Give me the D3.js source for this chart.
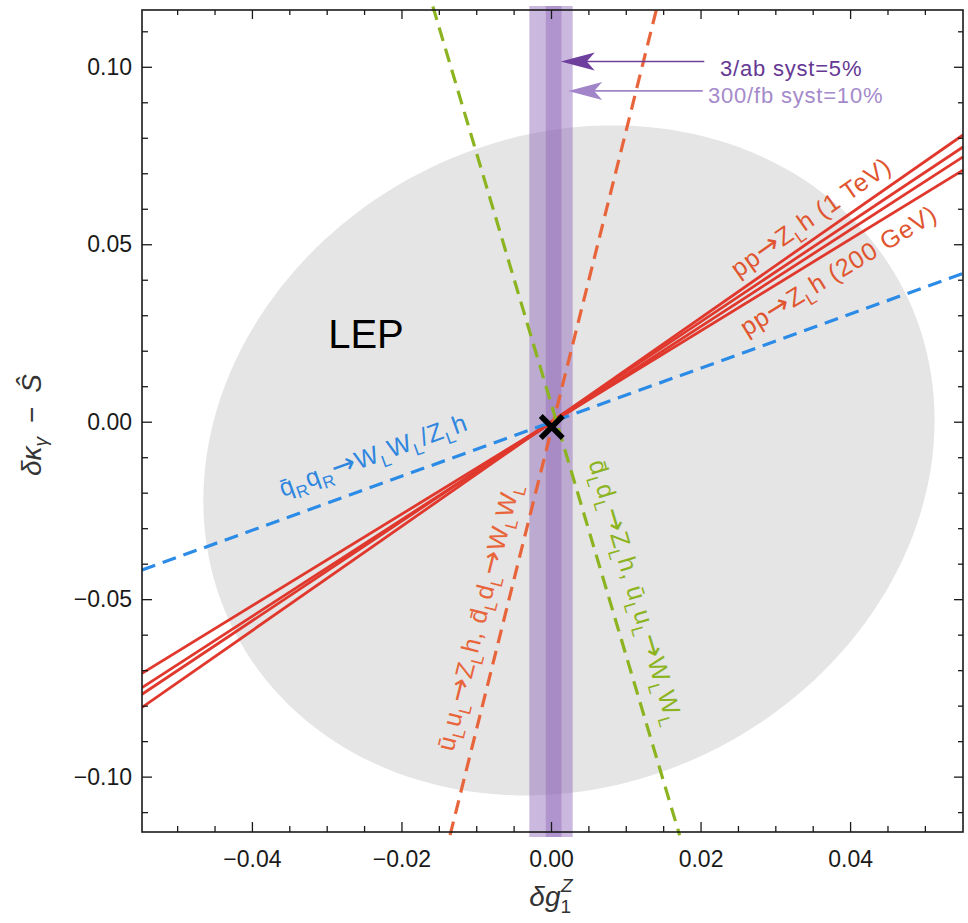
<!DOCTYPE html>
<html>
<head>
<meta charset="utf-8">
<script src="https://cdn.jsdelivr.net/npm/d3@7"></script>
<style>
  body { margin: 0; background: #fff; }
  svg text { font-family: "Liberation Sans", Arial, Helvetica, sans-serif; }
</style>
</head>
<body>
<div id="chart"></div>
<script>
// plot ranges and ticks
var xDomain = [-0.0547, 0.0551];
var yDomain = [-0.1156, 0.1160];
var xMajor = [-0.04, -0.02, 0.00, 0.02, 0.04];
var xLabels = ["\u22120.04", "\u22120.02", "0.00", "0.02", "0.04"];
var xMinor = [-0.05, -0.045, -0.035, -0.03, -0.025, -0.015, -0.01, -0.005,
              0.005, 0.01, 0.015, 0.025, 0.03, 0.035, 0.045, 0.05];
var yMajor = [-0.10, -0.05, 0.00, 0.05, 0.10];
var yLabels = ["\u22120.10", "\u22120.05", "0.00", "0.05", "0.10"];
var yMinor = [-0.11, -0.09, -0.08, -0.07, -0.06, -0.04, -0.03, -0.02, -0.01,
              0.01, 0.02, 0.03, 0.04, 0.06, 0.07, 0.08, 0.09, 0.11];

// LEP fit: centre, half widths, correlation
var lepCenter = [0.0024, -0.0109];
var lepHalf = [0.0489, 0.0944];
var lepRho = 0.12;

// vertical bands in dg1Z
var band300fb = [-0.0029, 0.0029];
var band3ab = [-0.0007, 0.0014];

// pp -> Z_L h boundaries: value at left edge / right edge
var redLeft = [-0.0709, -0.0749, -0.0768, -0.0805];
var redRight = [0.0709, 0.0746, 0.0774, 0.0808];

// dashed lines, two points each
var blueLine = [[-0.0547, -0.0418], [0.0551, 0.0418]];
var orangeLine = [[-0.0135, -0.1165], [0.0142, 0.1170]];
var greenLine = [[-0.0158, 0.1170], [0.0172, -0.1165]];

var bestFit = [0.0001, -0.0015];

// set the dimensions and margins of the graph
var margin = {top: 10, left: 142},
    width = 821,
    height = 822;

var x = d3.scaleLinear().domain(xDomain).range([0, width]);
var y = d3.scaleLinear().domain(yDomain).range([height, 0]);

var svg = d3.select("#chart").append("svg")
    .attr("width", 968)
    .attr("height", 923);

svg.append("defs").append("clipPath")
    .attr("id", "clip")
  .append("rect")
    .attr("x", 0)
    .attr("y", -4)
    .attr("width", width)
    .attr("height", height + 9);

var g = svg.append("g")
    .attr("transform", "translate(" + margin.left + "," + margin.top + ")");

var plot = g.append("g").attr("clip-path", "url(#clip)");

var line = d3.line()
    .x(function(d) { return x(d[0]); })
    .y(function(d) { return y(d[1]); });

// LEP ellipse
var lepPts = d3.range(0, 360, 2).map(function(a) {
  var t = a * Math.PI / 180;
  return [lepCenter[0] + lepHalf[0] * Math.cos(t),
          lepCenter[1] + lepHalf[1] * (lepRho * Math.cos(t) + Math.sqrt(1 - lepRho * lepRho) * Math.sin(t))];
});
plot.append("path")
    .datum(lepPts)
    .attr("fill", "#e5e5e5")
    .attr("d", line.curve(d3.curveLinearClosed));
line.curve(d3.curveLinear);

// purple bands
[[band300fb, 0.45], [band3ab, 0.42]].forEach(function(b) {
  plot.append("rect")
      .attr("x", x(b[0][0]))
      .attr("width", x(b[0][1]) - x(b[0][0]))
      .attr("y", -4)
      .attr("height", height + 9)
      .attr("fill", "#8b62b5")
      .attr("fill-opacity", b[1]);
});

// red solid lines
redLeft.forEach(function(v, i) {
  plot.append("path")
      .datum([[xDomain[0], v], [xDomain[1], redRight[i]]])
      .attr("fill", "none")
      .attr("stroke", "#e0382d")
      .attr("stroke-width", 2.8)
      .attr("d", line);
});

// dashed lines
[[blueLine, "#2b8be6"], [orangeLine, "#e8643a"], [greenLine, "#8cb421"]].forEach(function(l) {
  plot.append("path")
      .datum(l[0])
      .attr("fill", "none")
      .attr("stroke", l[1])
      .attr("stroke-width", 3.2)
      .attr("stroke-dasharray", "14,8")
      .attr("d", line);
});

// rich text: "sub" = subscript, "arr" = arrow glyph
function addRich(sel, parts, size) {
  var shift = 0;
  parts.forEach(function(p) {
    var s = p[1] === "sub" ? size * 0.28 : 0;
    var ts = sel.append("tspan").attr("dy", s - shift).text(p[0]);
    if (p[1] === "sub") ts.attr("font-size", size * 0.68);
    if (p[1] === "arr") ts.attr("font-family", "\"DejaVu Sans\", sans-serif").attr("font-size", size * 1.15);
    shift = s;
  });
}

// label placed along a line
var labelSize = 25;
function lineLabel(pts, t, offset, parts, color) {
  var x1 = x(pts[0][0]), y1 = y(pts[0][1]), x2 = x(pts[1][0]), y2 = y(pts[1][1]);
  var a = Math.atan2(y2 - y1, x2 - x1);
  var px = x1 + t * (x2 - x1) + offset * Math.sin(a),
      py = y1 + t * (y2 - y1) - offset * Math.cos(a);
  var txt = g.append("text")
      .attr("transform", "translate(" + px + "," + py + ") rotate(" + (a * 180 / Math.PI) + ")")
      .attr("font-size", labelSize)
      .attr("letter-spacing", 0.8)
      .attr("fill", color);
  addRich(txt, parts, labelSize);
}

var Lsub = ["L", "sub"], arrow = ["\u2192", "arr"];
lineLabel(blueLine, 0.18, 21,
  [["q\u0304", ""], ["R", "sub"], ["q", ""], ["R", "sub"], arrow, ["W", ""], Lsub, ["W", ""], Lsub, ["/Z", ""], Lsub, ["h", ""]],
  "#2f86de");
var red1TeV = [[xDomain[0], redLeft[3]], [xDomain[1], redRight[3]]];
var red200 = [[xDomain[0], redLeft[0]], [xDomain[1], redRight[0]]];
lineLabel(red1TeV, 0.734, 11,
  [["pp", ""], arrow, ["Z", ""], Lsub, ["h (1 TeV)", ""]], "#e0552f");
lineLabel(red200, 0.718, -29,
  [["pp", ""], arrow, ["Z", ""], Lsub, ["h (200 GeV)", ""]], "#e0552f");
lineLabel(orangeLine, 0.095, 17,
  [["u\u0304", ""], Lsub, ["u", ""], Lsub, arrow, ["Z", ""], Lsub, ["h, d\u0304", ""], Lsub, ["d", ""], Lsub,
   arrow, ["W", ""], Lsub, ["W", ""], Lsub], "#e8643a");
lineLabel(greenLine, 0.557, 19,
  [["d\u0304", ""], Lsub, ["d", ""], Lsub, arrow, ["Z", ""], Lsub, ["h, u\u0304", ""], Lsub, ["u", ""], Lsub,
   arrow, ["W", ""], Lsub, ["W", ""], Lsub], "#8cb421");

// LEP label
g.append("text")
    .attr("x", x(-0.0298))
    .attr("y", y(0.0207))
    .attr("font-size", 40)
    .attr("fill", "#000")
    .text("LEP");

// best fit marker
g.append("path")
    .attr("transform", "translate(" + x(bestFit[0]) + "," + y(bestFit[1]) + ")")
    .attr("d", "M-11,-11L11,11M-11,11L11,-11")
    .attr("stroke", "#000")
    .attr("stroke-width", 5.5);

// arrows with luminosity labels
var arrows = [
  {y: 0.1015, from: 0.0205, tip: 0.0013, ty: 0.0973, tx: 0.0226, text: "3/ab syst=5%", color: "#6f3f9e", tcolor: "#653894"},
  {y: 0.0932, from: 0.0203, tip: 0.0023, ty: 0.0897, tx: 0.0210, text: "300/fb syst=10%", color: "#a285c9", tcolor: "#a58acb"}
];
arrows.forEach(function(d) {
  var ay = y(d.y), tip = x(d.tip);
  g.append("line")
      .attr("x1", x(d.from)).attr("x2", tip + 20)
      .attr("y1", ay).attr("y2", ay)
      .attr("stroke", d.color)
      .attr("stroke-width", 1.6);
  g.append("path")
      .attr("d", "M" + tip + "," + ay + "L" + (tip + 34) + "," + (ay - 9) + "L" + (tip + 26) + "," + ay + "L" + (tip + 34) + "," + (ay + 9) + "Z")
      .attr("fill", d.color);
  g.append("text")
      .attr("x", x(d.tx))
      .attr("y", y(d.ty))
      .attr("font-size", 22)
      .attr("letter-spacing", 0.8)
      .attr("fill", d.tcolor)
      .text(d.text);
});

// axes
function styleAxis(sel) {
  sel.select(".domain").remove();
  sel.style("color", "#1a1a1a");
  sel.selectAll("line").attr("stroke-width", 1.3);
  sel.selectAll("text")
      .attr("font-size", 23)
      .attr("font-family", "\"Liberation Sans\", Arial, Helvetica, sans-serif");
}

g.append("g")
    .attr("transform", "translate(0," + height + ")")
    .call(d3.axisBottom(x).tickValues(xMajor).tickSize(-10).tickPadding(19)
      .tickFormat(function(d, i) { return xLabels[i]; }))
    .call(styleAxis);
g.append("g")
    .attr("transform", "translate(0," + height + ")")
    .call(d3.axisBottom(x).tickValues(xMinor).tickSize(-6).tickFormat(""))
    .call(styleAxis);
g.append("g")
    .call(d3.axisTop(x).tickValues(xMajor).tickSize(-9).tickFormat(""))
    .call(styleAxis);
g.append("g")
    .call(d3.axisTop(x).tickValues(xMinor).tickSize(-5).tickFormat(""))
    .call(styleAxis);

g.append("g")
    .call(d3.axisLeft(y).tickValues(yMajor).tickSize(-10).tickPadding(10)
      .tickFormat(function(d, i) { return yLabels[i]; }))
    .call(styleAxis);
g.append("g")
    .call(d3.axisLeft(y).tickValues(yMinor).tickSize(-6).tickFormat(""))
    .call(styleAxis);
g.append("g")
    .attr("transform", "translate(" + width + ",0)")
    .call(d3.axisRight(y).tickValues(yMajor).tickSize(-9).tickFormat(""))
    .call(styleAxis);
g.append("g")
    .attr("transform", "translate(" + width + ",0)")
    .call(d3.axisRight(y).tickValues(yMinor).tickSize(-5).tickFormat(""))
    .call(styleAxis);

// frame
g.append("rect")
    .attr("width", width)
    .attr("height", height)
    .attr("fill", "none")
    .attr("stroke", "#1a1a1a")
    .attr("stroke-width", 1.6);

// axis titles
var serif = "\"Liberation Serif\", \"Times New Roman\", serif";
var xt = svg.append("text")
    .attr("x", 551)
    .attr("y", 906)
    .attr("text-anchor", "middle")
    .attr("font-family", serif)
    .attr("font-style", "italic")
    .attr("font-size", 28)
    .attr("fill", "#333");
xt.append("tspan").text("\u03b4g");
xt.append("tspan").attr("dy", 7).attr("font-size", 19).attr("font-style", "normal").text("1");
xt.append("tspan").attr("dx", -10).attr("dy", -21).attr("font-size", 19).text("Z");

var yt = svg.append("text")
    .attr("transform", "translate(41,425) rotate(-90)")
    .attr("text-anchor", "middle")
    .attr("font-family", serif)
    .attr("font-style", "italic")
    .attr("font-size", 28)
    .attr("fill", "#333");
yt.append("tspan").text("\u03b4\u03ba");
yt.append("tspan").attr("dy", 6).attr("font-size", 19).text("\u03b3");
yt.append("tspan").attr("dy", -6).attr("font-style", "normal").text("\u2002\u2212\u2002");
yt.append("tspan").text("\u015c");
</script>
</body>
</html>
